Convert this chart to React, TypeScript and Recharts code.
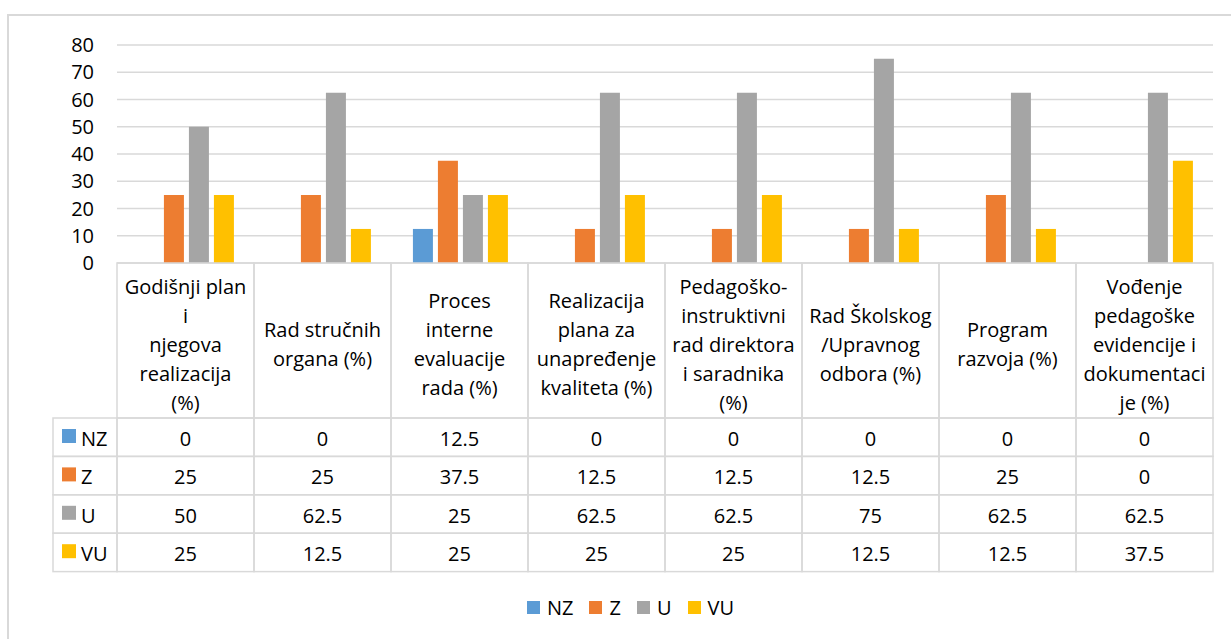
import { BarChart, Bar, XAxis, YAxis, CartesianGrid, Legend } from 'recharts';

const categories = [
  'Godišnji plan\ni\nnjegova\nrealizacija\n(%)',
  'Rad stručnih\norgana (%)',
  'Proces\ninterne\nevaluacije\nrada (%)',
  'Realizacija\nplana za\nunapređenje\nkvaliteta (%)',
  'Pedagoško-\ninstruktivni\nrad direktora\ni saradnika\n(%)',
  'Rad Školskog\n/Upravnog\nodbora (%)',
  'Program\nrazvoja (%)',
  'Vođenje\npedagoške\nevidencije i\ndokumentaci\nje (%)',
];
const nz = [0, 0, 12.5, 0, 0, 0, 0, 0];
const z = [25, 25, 37.5, 12.5, 12.5, 12.5, 25, 0];
const u = [50, 62.5, 25, 62.5, 62.5, 75, 62.5, 62.5];
const vu = [25, 12.5, 25, 25, 25, 12.5, 12.5, 37.5];
const yTicks = [0, 10, 20, 30, 40, 50, 60, 70, 80];

const series = [
  { key: 'NZ', values: nz, color: '#5B9BD5' },
  { key: 'Z', values: z, color: '#ED7D31' },
  { key: 'U', values: u, color: '#A5A5A5' },
  { key: 'VU', values: vu, color: '#FFC000' },
];

const data = categories.map((name, i) => {
  const row: any = { name };
  series.forEach((s) => (row[s.key] = s.values[i]));
  return row;
});

const W = 1223;
const H = 624;
const MARGIN = { top: 30, right: 18, left: 49, bottom: 17 };
const PLOT_W = W - MARGIN.left - MARGIN.right - 60;
const FONT = '"Open Sans", sans-serif';
const LINE = '#d9d9d9';
const HEAD_H = 155;
const ROW_H = 38.4;

const TableTick = (props: any) => {
  const { x, y, payload, index } = props;
  const bw = payload && payload.offset ? payload.offset * 2 : PLOT_W / categories.length;
  const left = x - bw / 2;
  const lines: string[] = String(payload.value).split('\n');
  const lh = 29;
  const startY = y + 81 - ((lines.length - 1) * lh) / 2;
  const i = index;
  return (
    <g fontFamily={FONT} fontSize={20} fill="#000">
      {/* header cell */}
      <rect x={left} y={y} width={bw} height={HEAD_H} fill="none" stroke={LINE} strokeWidth={1.5} />
      {lines.map((ln, k) => (
        <text key={k} x={x} y={startY + k * lh} textAnchor="middle" dominantBaseline="central">
          {ln}
        </text>
      ))}
      {series.map((s, r) => {
        const ry = y + HEAD_H + r * ROW_H;
        return (
          <g key={s.key}>
            <rect x={left} y={ry} width={bw} height={ROW_H} fill="none" stroke={LINE} strokeWidth={1.5} />
            <text x={x} y={ry + ROW_H / 2 + 1} textAnchor="middle" dominantBaseline="central">
              {s.values[i]}
            </text>
            {i === 0 && (
              <g>
                <rect x={left - 64} y={ry} width={64} height={ROW_H} fill="none" stroke={LINE} strokeWidth={1.5} />
                <rect x={left - 55} y={ry + 11} width={14} height={14} fill={s.color} />
                <text x={left - 36} y={ry + ROW_H / 2 + 1} dominantBaseline="central">
                  {s.key}
                </text>
              </g>
            )}
          </g>
        );
      })}
    </g>
  );
};

const LegendContent = () => (
  <div
    style={{
      display: 'flex',
      justifyContent: 'center',
      alignItems: 'center',
      height: 30,
      paddingLeft: 22,
      fontFamily: FONT,
      fontSize: 20,
      color: '#000',
    }}
  >
    {series.map((s, k) => (
      <span
        key={s.key}
        style={{ display: 'flex', alignItems: 'center', marginLeft: k === 0 ? 0 : 16 }}
      >
        <span style={{ width: 13, height: 13, background: s.color, marginRight: 7 }} />
        {s.key}
      </span>
    ))}
  </div>
);

export default function App() {
  return (
    <div>
      <div
        style={{
          position: 'absolute',
          left: 7,
          top: 14,
          width: W + 10,
          height: H + 10,
          borderLeft: `2px solid ${LINE}`,
          borderTop: `2px solid ${LINE}`,
        }}
      />
      <div style={{ position: 'absolute', left: 8, top: 15, width: W, height: H }}>
        <BarChart
          width={W}
          height={H}
          data={data}
          margin={MARGIN}
          barCategoryGap="16%"
          barGap={5}
        >
          <CartesianGrid vertical={false} stroke={LINE} strokeWidth={1.5} />
          <XAxis
            dataKey="name"
            interval={0}
            height={329}
            tickLine={false}
            axisLine={false}
            tickSize={0}
            tickMargin={0}
            tick={<TableTick />}
          />
          <YAxis
            width={60}
            domain={[0, 80]}
            ticks={yTicks}
            interval={0}
            axisLine={false}
            tickLine={false}
            tickSize={0}
            tickMargin={23}
            tick={{ fontFamily: FONT, fontSize: 20, fill: '#000' }}
          />
          <Legend verticalAlign="bottom" content={<LegendContent />} wrapperStyle={{ left: 0, width: W }} />
          {series.map((s) => (
            <Bar key={s.key} dataKey={s.key} fill={s.color} isAnimationActive={false} />
          ))}
        </BarChart>
      </div>
    </div>
  );
}
